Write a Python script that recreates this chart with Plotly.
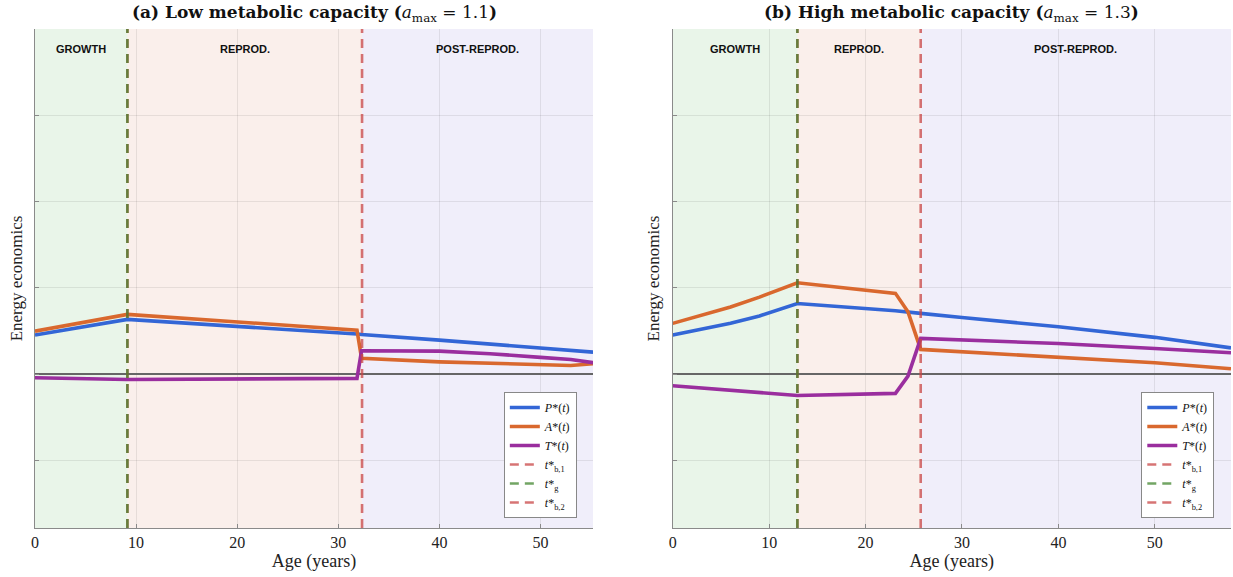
import plotly.graph_objects as go

# ---- data: panel (a), low metabolic capacity ----
age_a = [0, 9.14, 31.85, 32.3, 40, 45, 50, 53, 55.2]
P_a = [0.226, 0.317, 0.232, 0.229, 0.197, 0.173, 0.149, 0.137, 0.127]
A_a = [0.249, 0.346, 0.255, 0.091, 0.071, 0.063, 0.055, 0.050, 0.060]
T_a = [-0.021, -0.031, -0.025, 0.135, 0.133, 0.118, 0.097, 0.085, 0.066]
tg_a, tb2_a, xmax_a = 9.14, 32.35, 55.2

# ---- data: panel (b), high metabolic capacity ----
age_b = [0, 3, 6, 9, 12.93, 23.1, 24.4, 25.72, 30, 40, 50, 57.9]
P_b = [0.226, 0.258, 0.295, 0.337, 0.409, 0.367, 0.357, 0.352, 0.328, 0.274, 0.213, 0.152]
A_b = [0.294, 0.339, 0.389, 0.446, 0.529, 0.468, 0.361, 0.143, 0.129, 0.097, 0.066, 0.031]
T_b = [-0.068, -0.080, -0.094, -0.109, -0.124, -0.112, -0.012, 0.207, 0.198, 0.177, 0.148, 0.124]
tg_b, tb2_b, xmax_b = 12.93, 25.72, 57.9

phases = ["GROWTH", "REPROD.", "POST-REPROD."]
ymin, ymax = -0.892, 2.0

C_P = "#3366d6"
C_A = "#d9682e"
C_T = "#9a2e9e"
C_RED = "rgba(200,70,70,0.75)"
C_GREEN = "rgba(60,130,40,0.72)"
BANDS = ["rgba(110,185,110,0.15)", "rgba(215,120,90,0.12)", "rgba(110,90,210,0.10)"]

SERIF = "Liberation Serif, DejaVu Serif, serif"
SANS = "Liberation Sans, Arial, sans-serif"

fig = go.Figure()

panels = [
    (age_a, P_a, A_a, T_a, tg_a, tb2_a, xmax_a, "x", "y", "legend"),
    (age_b, P_b, A_b, T_b, tg_b, tb2_b, xmax_b, "x2", "y2", "legend2"),
]

for ages, P, A, T, tg, tb2, xmax, xa, ya, lg in panels:
    for name, vals, col in [
        ("<i>P</i>*(<i>t</i>)", P, C_P),
        ("<i>A</i>*(<i>t</i>)", A, C_A),
        ("<i>T</i>*(<i>t</i>)", T, C_T),
    ]:
        fig.add_trace(go.Scatter(x=ages, y=vals, mode="lines", name=name,
                                 line=dict(color=col, width=3.6),
                                 xaxis=xa, yaxis=ya, legend=lg))
    # phase boundaries: birth onset coincides with end of growth
    for name, xv, col in [
        ("<i>t</i>*<sub>b,1</sub>", tg, C_RED),
        ("<i>t</i>*<sub>g</sub>", tg, C_GREEN),
        ("<i>t</i>*<sub>b,2</sub>", tb2, C_RED),
    ]:
        fig.add_trace(go.Scatter(x=[xv, xv], y=[ymin, ymax], mode="lines", name=name,
                                 line=dict(color=col, width=2.6, dash="9px,6px"),
                                 xaxis=xa, yaxis=ya, legend=lg))
    edges = [0, tg, tb2, xmax]
    for i in range(3):
        fig.add_shape(type="rect", xref=xa, yref=f"{ya} domain",
                      x0=edges[i], x1=edges[i + 1], y0=0, y1=1,
                      fillcolor=BANDS[i], line_width=0, layer="below")
        fig.add_annotation(x=(edges[i] + edges[i + 1]) / 2, xref=xa,
                           y=0.96, yref=f"{ya} domain", yanchor="middle", xanchor="center",
                           text=f"<b>{phases[i]}</b>",
                           showarrow=False, font=dict(family=SANS, size=11, color="#111"))

axis_common = dict(
    showgrid=True, gridcolor="rgba(0,0,0,0.08)", gridwidth=1,
    showline=True, linecolor="#8a8a8a", linewidth=1,
    ticks="inside", ticklen=4, tickcolor="#8a8a8a",
    mirror=False,
)
xfont = dict(family=SERIF, size=16, color="#222")
xtitle = dict(text="Age (years)", font=dict(family=SERIF, size=18, color="#222"), standoff=2)
ytitle = dict(text="Energy economics", font=dict(family=SERIF, size=17, color="#222"), standoff=7)
legfont = dict(family=SERIF, size=12, color="#111")

fig.update_layout(
    width=1233, height=577,
    margin=dict(l=35, r=2, t=29, b=49),
    paper_bgcolor="white", plot_bgcolor="white",
    showlegend=True,
    xaxis=dict(domain=[0, 0.4666], range=[0, xmax_a], dtick=10, tick0=0,
               tickfont=xfont, title=xtitle, **axis_common),
    yaxis=dict(domain=[0, 1], range=[ymin, ymax], dtick=0.5, tick0=0, showticklabels=False,
               zeroline=True, zerolinecolor="#666", zerolinewidth=1.5,
               title=ytitle, **axis_common),
    xaxis2=dict(domain=[0.5332, 1], range=[0, xmax_b], dtick=10, tick0=0, anchor="y2",
                tickfont=xfont, title=xtitle, **axis_common),
    yaxis2=dict(domain=[0, 1], range=[ymin, ymax], dtick=0.5, tick0=0, showticklabels=False, anchor="x2",
                zeroline=True, zerolinecolor="#666", zerolinewidth=1.5,
                title=ytitle, **axis_common),
    legend=dict(x=0.392, y=0.02, xanchor="left", yanchor="bottom",
                bgcolor="white", bordercolor="#888", borderwidth=1,
                font=legfont, tracegroupgap=0),
    legend2=dict(x=0.925, y=0.02, xanchor="left", yanchor="bottom",
                 bgcolor="white", bordercolor="#888", borderwidth=1,
                 font=legfont, tracegroupgap=0),
)

titles = [
    (0.2333, "<b>(a) Low metabolic capacity (</b><i>a</i><sub>max</sub> = 1.1<b>)</b>"),
    (0.7666, "<b>(b) High metabolic capacity (</b><i>a</i><sub>max</sub> = 1.3<b>)</b>"),
]
for xp, txt in titles:
    fig.add_annotation(x=xp, y=1.032, xref="paper", yref="paper", text=txt,
                       xanchor="center", yanchor="middle",
                       showarrow=False, font=dict(family="DejaVu Serif, serif", size=17, color="#111"))

fig.write_html("out.html")
